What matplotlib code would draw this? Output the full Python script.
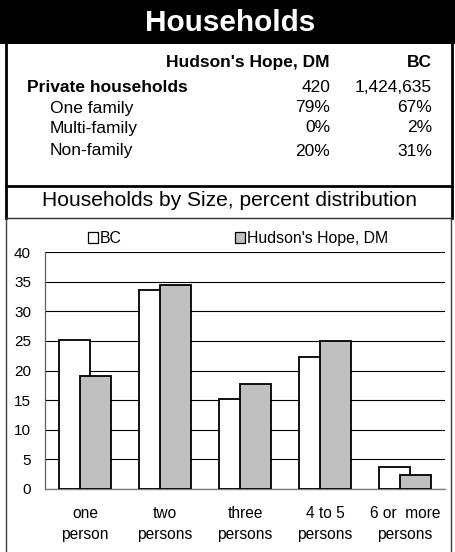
import matplotlib
matplotlib.use("Agg")
import matplotlib.pyplot as plt
from matplotlib.patches import Rectangle, Patch
from matplotlib.lines import Line2D
import numpy as np

plt.rcParams['font.family'] = ['Liberation Sans', 'DejaVu Sans']

# ---- data ----
title = "Households"
table_cols = ["Hudson's Hope, DM", "BC"]
table_rows = ["Private households", "One family", "Multi-family", "Non-family"]
hudson_vals = ["420", "79%", "0%", "20%"]
bc_vals = ["1,424,635", "67%", "2%", "31%"]
chart_title = "Households by Size, percent distribution"
categories = ["one\nperson", "two\npersons", "three\npersons", "4 to 5\npersons", "6 or  more\npersons"]
bc_pct = [25.2, 33.6, 15.2, 22.2, 3.7]
hudson_pct = [19.0, 34.5, 17.8, 25.0, 2.3]
series_names = ["BC", "Hudson's Hope, DM"]
y_ticks = [0, 5, 10, 15, 20, 25, 30, 35, 40]

W, H = 456, 552
fig = plt.figure(figsize=(W / 100, H / 100), dpi=100)

def fx(x):
    return x / W

def fy(y):
    return 1 - y / H

# header
fig.patches.append(Rectangle((0, fy(44)), 1, 44 / H, transform=fig.transFigure,
                             facecolor='black', edgecolor='none', zorder=0))
fig.text(fx(230), fy(23), title, color='white', fontsize=21.4, fontweight='bold',
         ha='center', va='center')

# borders
def hline(y, x0, x1, lw, color='black'):
    fig.lines.append(Line2D([fx(x0), fx(x1)], [fy(y), fy(y)], transform=fig.transFigure,
                            color=color, lw=lw))

def vline(x, y0, y1, lw, color='black'):
    fig.lines.append(Line2D([fx(x), fx(x)], [fy(y0), fy(y1)], transform=fig.transFigure,
                            color=color, lw=lw))

vline(6, 0, 218, 2.0)
vline(452, 0, 218, 2.0)
vline(6, 218, 552, 1.0, '#404040')
vline(451, 218, 552, 1.0, '#404040')
hline(186, 6, 452, 2.0)
hline(218, 6, 452, 1.0, '#303030')

# table
fs = 12.5
fig.text(fx(330), fy(62), table_cols[0], fontsize=fs, fontweight='bold', ha='right', va='center')
fig.text(fx(432), fy(62), table_cols[1], fontsize=fs, fontweight='bold', ha='right', va='center')
row_y = [87, 108, 128, 151]
for i, (lab, hv, bv) in enumerate(zip(table_rows, hudson_vals, bc_vals)):
    if i == 0:
        fig.text(fx(27), fy(row_y[i]), lab, fontsize=fs, fontweight='bold', ha='left', va='center')
    else:
        fig.text(fx(50), fy(row_y[i]), lab, fontsize=fs, ha='left', va='center')
    fig.text(fx(330), fy(row_y[i]), hv, fontsize=fs, ha='right', va='center')
    fig.text(fx(432), fy(row_y[i]), bv, fontsize=fs, ha='right', va='center')

fig.text(fx(229.5), fy(201), chart_title, fontsize=15.1, ha='center', va='center')

# chart
ax = fig.add_axes([fx(45), fy(489), (445 - 45) / W, (489 - 252) / H])
x = np.arange(len(categories))
bw = 0.39
off = 0.135
ax.bar(x - off, bc_pct, bw, color='white', edgecolor='black', lw=1.3, zorder=3)
ax.bar(x + off, hudson_pct, bw, color='#C0C0C0', edgecolor='black', lw=1.3, zorder=4)
ax.set_xlim(-0.5, len(categories) - 0.5)
ax.set_ylim(0, 40)
ax.set_yticks(y_ticks)
ax.set_yticklabels([str(t) for t in y_ticks], fontsize=11)
ax.set_xticks(x)
ax.set_xticklabels(categories, fontsize=11.2, linespacing=1.5)
ax.tick_params(axis='both', length=0)
ax.tick_params(axis='y', pad=10)
ax.tick_params(axis='x', pad=12.5)
ax.yaxis.grid(True, color='black', lw=0.8, zorder=0)
ax.set_axisbelow(True)
for s in ['top', 'right']:
    ax.spines[s].set_visible(False)
ax.spines['left'].set_color('#606060')
ax.spines['left'].set_linewidth(0.9)
ax.spines['bottom'].set_color('#808080')
ax.spines['bottom'].set_linewidth(1.0)

handles = [Patch(facecolor='white', edgecolor='black', lw=0.9),
           Patch(facecolor='#C0C0C0', edgecolor='black', lw=0.9)]
leg = fig.legend(handles, series_names, loc='center left', bbox_to_anchor=(fx(88), fy(238.5)),
                 ncol=2, frameon=False, fontsize=11.4, handlelength=0.62, handleheight=0.62,
                 handletextpad=0.1, columnspacing=7.2, borderpad=0, borderaxespad=0)

fig.savefig("out.png", dpi=100)
